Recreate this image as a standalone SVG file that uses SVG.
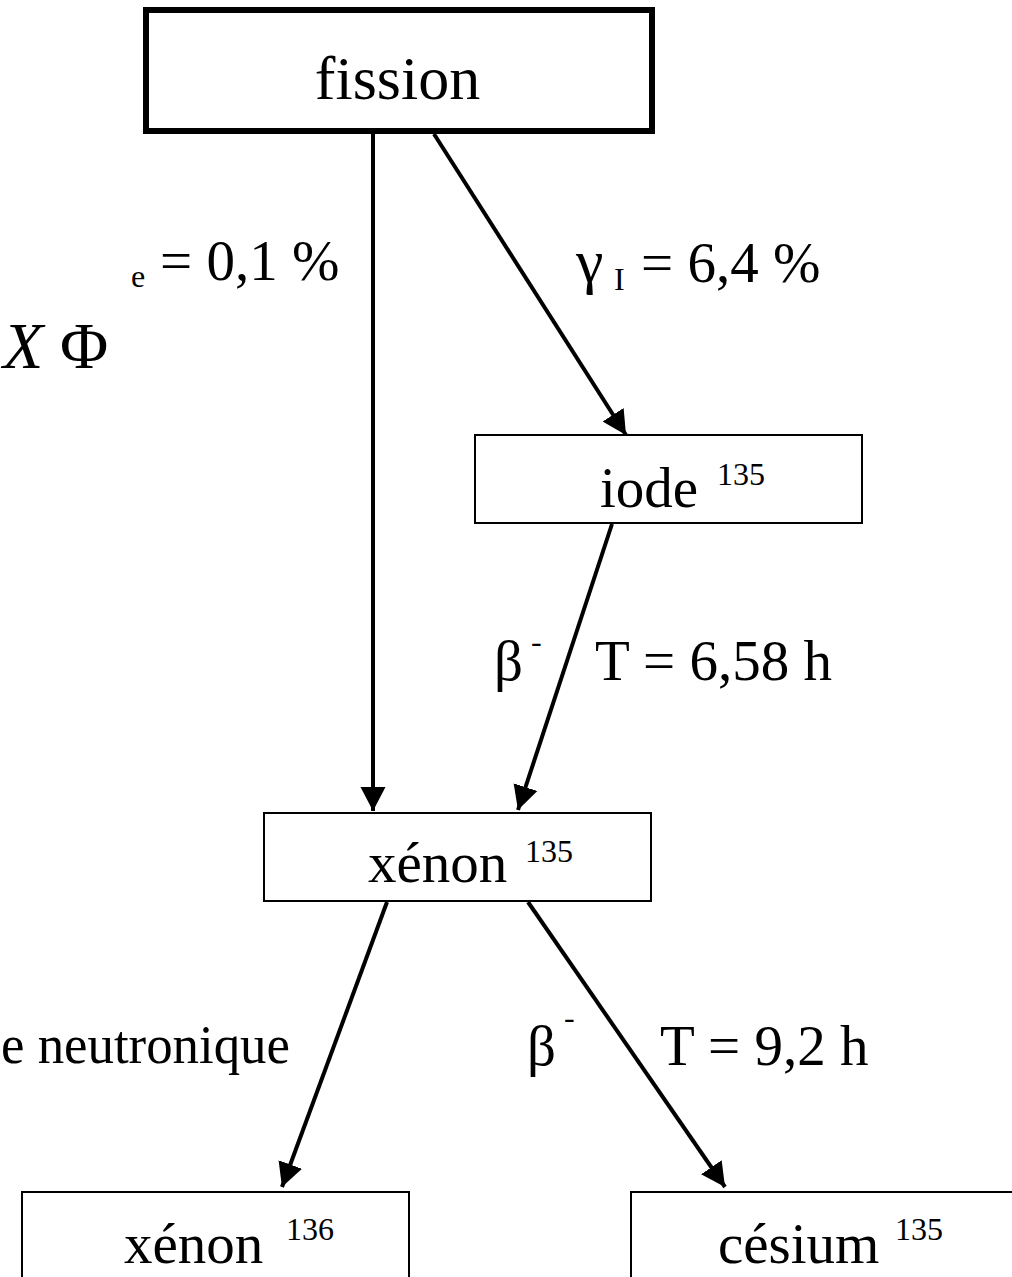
<svg xmlns="http://www.w3.org/2000/svg" width="1012" height="1277" viewBox="0 0 1012 1277">
<defs>
<marker id="ah" markerUnits="userSpaceOnUse" markerWidth="26" markerHeight="26" viewBox="-24 -13 26 26" refX="0" refY="0" orient="auto">
<path d="M-24,-12.5 L0,0 L-24,12.5 z" fill="#000"/>
</marker>
</defs>
<style>
text{font-family:"Liberation Serif","Times New Roman",serif;fill:#000}
.box{fill:#fff;stroke:#000;stroke-width:2}
.big{font-size:57px}
.sup{font-size:32px}
.sub{font-size:32px}
.conn line{stroke:#000;stroke-width:4;marker-end:url(#ah)}
</style>
<rect width="1012" height="1277" fill="#fff"/>
<g id="fission">
<rect x="146" y="10" width="506" height="121" fill="#fff" stroke="#000" stroke-width="6"/>
<text x="397.5" y="99" text-anchor="middle" style="font-size:62px">fission</text>
</g>
<g id="iode">
<rect class="box" x="475" y="435" width="387" height="88"/>
<text class="big" x="600" y="507">iode</text>
<text class="sup" x="717" y="485">135</text>
</g>
<g id="xenon135">
<rect class="box" x="264" y="813" width="387" height="88"/>
<text class="big" x="368" y="882">xénon</text>
<text class="sup" x="525" y="862">135</text>
</g>
<g id="xenon136">
<rect class="box" x="22" y="1192" width="387" height="100"/>
<text class="big" x="124" y="1263">xénon</text>
<text class="sup" x="286" y="1240">136</text>
</g>
<g id="cesium">
<rect class="box" x="631" y="1192" width="400" height="100"/>
<text class="big" x="718" y="1263">césium</text>
<text class="sup" x="895" y="1240">135</text>
</g>
<g id="connectors" class="conn">
<line x1="373" y1="134" x2="373" y2="811"/>
<line x1="434" y1="134" x2="626" y2="435"/>
<line x1="612" y1="524" x2="518" y2="810"/>
<line x1="387" y1="902" x2="282" y2="1187"/>
<line x1="528" y1="902" x2="725" y2="1187"/>
</g>
<g id="labels">
<text class="sub" x="131" y="287">e</text>
<text class="big" x="160" y="280">= 0,1 %</text>
<text x="3" y="368" style="font-size:66px"><tspan font-style="italic">X</tspan><tspan x="60">Φ</tspan></text>
<text x="576" y="282" style="font-size:62px">γ</text>
<text class="sub" x="614" y="290">I</text>
<text class="big" x="641" y="282">= 6,4 %</text>
<text class="big" x="494" y="680">β</text>
<text class="sup" x="531" y="652">-</text>
<text class="big" x="595" y="680">T = 6,58 h</text>
<text x="1" y="1063" style="font-size:55px" textLength="289" lengthAdjust="spacingAndGlyphs">e neutronique</text>
<text class="big" x="527" y="1065">β</text>
<text class="sup" x="564" y="1028">-</text>
<text class="big" x="660" y="1065">T = 9,2 h</text>
</g>
</svg>
